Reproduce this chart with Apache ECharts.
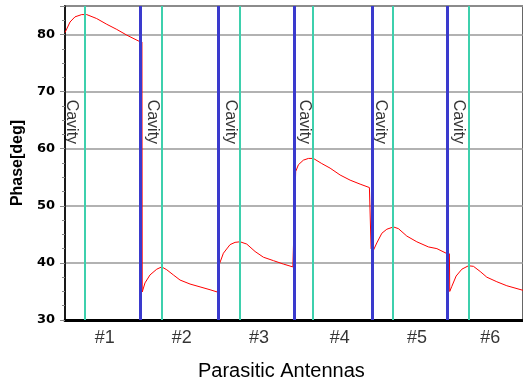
<!DOCTYPE html>
<html>
<head>
<meta charset="utf-8">
<script src="https://cdn.jsdelivr.net/npm/echarts@6/dist/echarts.min.js"></script>
<style>
  html, body { margin: 0; padding: 0; background: #fff; }
  #chart { width: 523px; height: 387px; }
</style>
</head>
<body>
<div id="chart"></div>
<script>
// position along the array of parasitic antennas (1 unit per antenna)
const antennaPos = [
  0, 0.066, 0.131, 0.219, 0.284, 0.415, 0.547, 0.678, 0.809, 0.974, 1.008,
  1.012, 1.048, 1.114, 1.202, 1.267, 1.333, 1.419, 1.507, 1.638, 1.769, 1.9, 1.996,
  2.02, 2.075, 2.162, 2.228, 2.294, 2.381, 2.49, 2.599, 2.73, 2.861, 2.985,
  3.022, 3.058, 3.123, 3.189, 3.254, 3.364, 3.473, 3.604, 3.735, 3.866, 3.988, 4.006,
  4.01, 4.033, 4.085, 4.151, 4.216, 4.303, 4.368, 4.478, 4.609, 4.761, 4.872, 4.993, 5.036,
  5.04, 5.068, 5.124, 5.199, 5.286, 5.351, 5.439, 5.526, 5.657, 5.788, 6.0
]
const phaseDeg = [
  80.35, 82.2, 83.1, 83.5, 83.5, 82.8, 81.8, 80.9, 79.9, 78.8, 78.7,
  34.9, 36.5, 37.9, 38.9, 39.3, 38.8, 37.9, 37.0, 36.3, 35.8, 35.3, 34.9,
  39.7, 41.7, 43.2, 43.6, 43.7, 43.3, 42.0, 41.0, 40.4, 39.8, 39.3,
  56.0, 57.2, 58.0, 58.3, 58.3, 57.4, 56.6, 55.4, 54.5, 53.8, 53.2, 53.1,
  42.5, 42.0, 43.5, 45.2, 45.9, 46.3, 46.0, 44.7, 43.7, 42.8, 42.5, 41.7, 41.6,
  35.0, 35.9, 37.7, 38.9, 39.5, 39.4, 38.5, 37.5, 36.7, 36.0, 35.2
]

const antennaLabels = ['#1', '#2', '#3', '#4', '#5', '#6']
const antennaLabelAt = [0.52, 1.53, 2.54, 3.6, 4.61, 5.57]
const boundaries = [0.99, 2.01, 3.0, 4.02, 5.01]
const cavityPeaks = [0.26, 1.27, 2.29, 3.24, 4.29, 5.29]
const cavityLabelAt = [0.088, 1.14, 2.167, 3.132, 4.128, 5.151]
const cavityLabelPhase = 64.7

const BLUE = '#3a3acd'
const GREEN = '#3ed0ad'

const chart = echarts.init(document.getElementById('chart'))

const markLines = [
  ...cavityPeaks.map(x => ({ xAxis: x, lineStyle: { color: GREEN, width: 2, type: 'solid' } })),
  ...boundaries.map(x => ({ xAxis: x, lineStyle: { color: BLUE, width: 3, type: 'solid' } }))
]

chart.setOption({
  animation: false,
  title: {
    text: 'Parasitic Antennas',
    left: 193,
    top: 356,
    textStyle: { fontFamily: 'Liberation Sans', fontSize: 20, fontWeight: 'normal', color: '#000' }
  },
  grid: {
    left: 65, right: 0, top: 6, bottom: 67,
    show: true, borderColor: '#666', borderWidth: 2
  },
  xAxis: {
    type: 'value', min: 0, max: 6,
    axisLine: { show: true, lineStyle: { color: '#000', width: 3 } },
    axisTick: { show: false },
    axisLabel: { show: false },
    splitLine: { show: false }
  },
  yAxis: {
    type: 'value', min: 30, max: 85, interval: 10,
    name: 'Phase[deg]',
    nameLocation: 'middle',
    nameGap: 39,
    nameTextStyle: { fontFamily: 'Liberation Sans', fontSize: 16, fontWeight: 'bold', color: '#000' },
    axisLine: { show: true, lineStyle: { color: '#000', width: 1.5 } },
    axisTick: { show: true, length: 5, lineStyle: { color: '#888' } },
    minorTick: { show: true, splitNumber: 4, length: 3, lineStyle: { color: '#888' } },
    axisLabel: {
      showMaxLabel: false,
      margin: 10,
      fontFamily: 'DejaVu Sans', fontSize: 13, fontWeight: 'bold', color: '#000'
    },
    splitLine: { show: true, lineStyle: { color: '#999', width: 1.5 } }
  },
  series: [
    {
      type: 'line',
      data: antennaPos.map((x, i) => [x, phaseDeg[i]]),
      showSymbol: false,
      symbol: 'none',
      lineStyle: { color: '#ff0000', width: 1 },
      z: 2
    },
    {
      type: 'line',
      data: [],
      z: 3,
      markLine: { symbol: 'none', silent: true, label: { show: false }, data: markLines }
    },
    {
      type: 'scatter',
      symbolSize: 0,
      data: cavityLabelAt.map(x => [x, cavityLabelPhase]),
      label: {
        show: true, position: 'inside', rotate: -90, formatter: 'Cavity',
        fontFamily: 'Liberation Sans', fontSize: 16, color: '#000'
      },
      z: 4
    },
    {
      type: 'scatter',
      symbolSize: 0,
      clip: false,
      data: antennaLabelAt.map((x, i) => ({ value: [x, 30], name: antennaLabels[i] })),
      label: {
        show: true, position: 'bottom', distance: 9, formatter: '{b}',
        fontFamily: 'Liberation Sans', fontSize: 18, color: '#000'
      },
      z: 4
    }
  ]
})
</script>
</body>
</html>
